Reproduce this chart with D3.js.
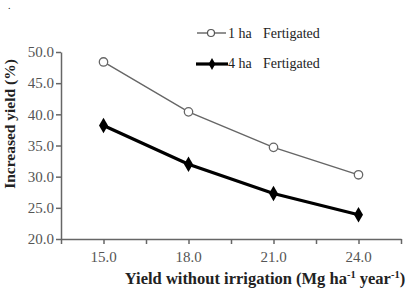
<!DOCTYPE html>
<html lang="en">
<head>
    <meta charset="UTF-8">
    <title></title>
    <script src="https://cdn.jsdelivr.net/npm/d3@7"></script>
    <style>
        body { margin: 0; background: #fff; }
    </style>
</head>
<body>
    <div id="root"></div>
    <script>
        // values
        const yieldWithout = [15, 18, 21, 24];
        const oneHa = [48.4, 40.4, 34.7, 30.3];
        const fourHa = [38.2, 32.0, 27.3, 23.9];
        const yTicks = [20, 25, 30, 35, 40, 45, 50];
        const xTickMarks = [13.5, 15, 16.5, 18, 19.5, 21, 22.5, 24, 25.5];

        const serif = '"Liberation Serif", "Times New Roman", "DejaVu Serif", serif';
        const width = 408, height = 291;
        const svg = d3.select('#root').append('svg')
            .attr('width', width)
            .attr('height', height)
            .style('font-family', serif);

        const x = d3.scaleLinear().domain([13.5, 25.5]).range([61, 401]);
        const y = d3.scaleLinear().domain([20, 50]).range([239, 52]);
        const axisColor = '#666';

        // y axis
        const yAxis = svg.append('g')
            .attr('transform', 'translate(61,0)')
            .call(d3.axisLeft(y).tickValues(yTicks).tickFormat(d3.format('.1f')).tickSize(5).tickSizeOuter(0));
        yAxis.attr('font-family', null);
        yAxis.select('.domain').attr('stroke', axisColor).attr('stroke-width', 1.5);
        yAxis.selectAll('.tick line').attr('stroke', axisColor).attr('stroke-width', 1.5);
        yAxis.selectAll('.tick text')
            .style('font-family', serif)
            .attr('fill', '#555').attr('font-size', 15).attr('x', -7);

        // x axis
        const xAxis = svg.append('g')
            .attr('transform', 'translate(0,239)')
            .call(d3.axisBottom(x).tickValues(xTickMarks).tickFormat('').tickSize(5).tickSizeOuter(0));
        xAxis.select('.domain').attr('stroke', axisColor).attr('stroke-width', 1.5);
        xAxis.selectAll('.tick line').attr('stroke', axisColor).attr('stroke-width', 1.5);
        svg.append('g').selectAll('text')
            .data(yieldWithout)
            .enter()
            .append('text')
            .attr('x', d => x(d))
            .attr('y', 262)
            .attr('text-anchor', 'middle')
            .attr('fill', '#555')
            .attr('font-size', 15)
            .text(d => d3.format('.1f')(d));

        // axis titles
        svg.append('text')
            .attr('transform', 'translate(15,124) rotate(-90)')
            .attr('text-anchor', 'middle')
            .attr('font-weight', 'bold')
            .attr('font-size', 15.5)
            .attr('fill', '#222')
            .text('Increased  yield  (%)');

        const xt = svg.append('text')
            .attr('x', 265)
            .attr('y', 284)
            .attr('text-anchor', 'middle')
            .attr('font-weight', 'bold')
            .attr('font-size', 16.5)
            .attr('fill', '#222');
        xt.append('tspan').text('Yield without irrigation (Mg ha');
        xt.append('tspan').attr('dy', -6).attr('font-size', 10.5).text('-1');
        xt.append('tspan').attr('dy', 6).text(' year');
        xt.append('tspan').attr('dy', -6).attr('font-size', 10.5).text('-1');
        xt.append('tspan').attr('dy', 6).text(')');

        const line = d3.line().x((d, i) => x(yieldWithout[i])).y(d => y(d));

        // 1 ha series
        svg.append('path')
            .datum(oneHa)
            .attr('d', line)
            .attr('fill', 'none')
            .attr('stroke', '#666')
            .attr('stroke-width', 1.4);
        svg.selectAll('.c1')
            .data(oneHa)
            .enter()
            .append('circle')
            .attr('class', 'c1')
            .attr('cx', (d, i) => x(yieldWithout[i]))
            .attr('cy', d => y(d))
            .attr('r', 4.2)
            .attr('fill', '#fff')
            .attr('stroke', '#666')
            .attr('stroke-width', 1.3);

        // 4 ha series
        svg.append('path')
            .datum(fourHa)
            .attr('d', line)
            .attr('fill', 'none')
            .attr('stroke', '#000')
            .attr('stroke-width', 3.2);
        const diamond = d3.symbol().type(d3.symbolDiamond).size(70);
        svg.selectAll('.d4')
            .data(fourHa)
            .enter()
            .append('path')
            .attr('class', 'd4')
            .attr('d', diamond)
            .attr('transform', (d, i) => `translate(${x(yieldWithout[i])},${y(d)})`)
            .attr('fill', '#000');

        // legend
        const leg = svg.append('g');
        leg.append('line').attr('x1', 197).attr('x2', 226).attr('y1', 33).attr('y2', 33)
            .attr('stroke', '#555').attr('stroke-width', 1.3);
        leg.append('circle').attr('cx', 211).attr('cy', 33).attr('r', 3.5)
            .attr('fill', '#fff').attr('stroke', '#555').attr('stroke-width', 1.2);
        leg.append('line').attr('x1', 196).attr('x2', 228).attr('y1', 64).attr('y2', 64)
            .attr('stroke', '#000').attr('stroke-width', 3.2);
        leg.append('path').attr('d', d3.symbol().type(d3.symbolDiamond).size(40))
            .attr('transform', 'translate(212,64)').attr('fill', '#000');
        const legText = [['1 ha', 38], ['4 ha', 68]];
        legText.forEach(([t, ty]) => {
            leg.append('text').attr('x', 228).attr('y', ty).attr('font-size', 14).attr('fill', '#222').text(t);
            leg.append('text').attr('x', 263).attr('y', ty).attr('font-size', 14).attr('fill', '#222').text('Fertigated');
        });

        svg.append('text').attr('x', 8).attr('y', 9).attr('font-size', 10).attr('fill', '#222').text('.');
    </script>
</body>
</html>
